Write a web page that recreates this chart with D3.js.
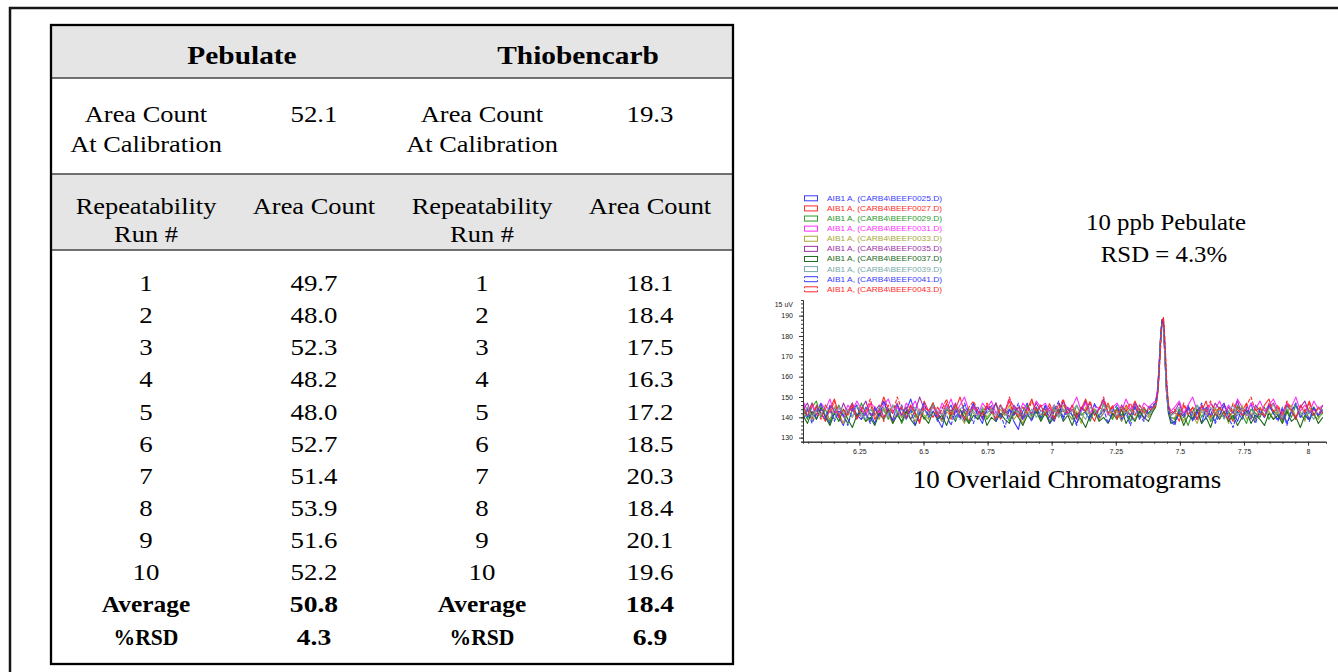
<!DOCTYPE html>
<html>
<head>
<meta charset="utf-8">
<script src="https://cdn.jsdelivr.net/npm/d3@7"></script>
<style>
  html, body { margin: 0; padding: 0; background: #fff; }
  svg { display: block; }
</style>
</head>
<body>
<svg id="chart" width="1338" height="672"></svg>
<script>
// ---- Repeatability table data ----
const compounds = ["Pebulate", "Thiobencarb"];
const calibrationAreas = [52.1, 19.3];
const runNumbers = [1, 2, 3, 4, 5, 6, 7, 8, 9, 10];
const pebulateAreas = [49.7, 48.0, 52.3, 48.2, 48.0, 52.7, 51.4, 53.9, 51.6, 52.2];
const thiobencarbAreas = [18.1, 18.4, 17.5, 16.3, 17.2, 18.5, 20.3, 18.4, 20.1, 19.6];

// ---- Chromatogram data ----
const legendFiles = [
  "AIB1 A, (CARB4\\BEEF0025.D)", "AIB1 A, (CARB4\\BEEF0027.D)",
  "AIB1 A, (CARB4\\BEEF0029.D)", "AIB1 A, (CARB4\\BEEF0031.D)",
  "AIB1 A, (CARB4\\BEEF0033.D)", "AIB1 A, (CARB4\\BEEF0035.D)",
  "AIB1 A, (CARB4\\BEEF0037.D)", "AIB1 A, (CARB4\\BEEF0039.D)",
  "AIB1 A, (CARB4\\BEEF0041.D)", "AIB1 A, (CARB4\\BEEF0043.D)"
];
const traceColors = ["#3a3aff", "#ff2a2a", "#2a9a2a", "#ff30ff", "#a8a838",
                     "#a030a8", "#1e6a1e", "#78a8a8", "#3a3aff", "#ff2a2a"];
const xMajorTicks = [6.25, 6.5, 6.75, 7, 7.25, 7.5, 7.75, 8];
const yMajorTicks = [130, 140, 150, 160, 170, 180, 190];
// retention-time samples across the Pebulate peak (min)
const peakTimes = [7.395, 7.405, 7.412, 7.418, 7.424, 7.430, 7.436, 7.442, 7.448, 7.455, 7.465];

// detector signal (uV): 78 samples before the peak window, 11 across it, 34 after
const run0025 = [
  146,140,147,139,144,141,137,145,140,136, 143,147,141,139,145,142,137,144,148,141,
  139,146,140,143,149,142,138,144,141,147, 139,135,143,146,140,144,138,142,147,141,
  137,145,143,139,146,141,144,138,134,143, 147,140,145,139,146,142,138,144,140,145,
  141,137,143,148,140,144,139,142,146,140, 144,138,143,141,145,139,144,142,
  145,147,152,163,178,188,185,169,153,144,139,
  137,144,141,146,139,143,137,145,141,138, 144,147,140,143,138,145,141,147,139,143,
  140,146,142,139,144,137,143,146,140,144, 139,145,141,143];
const run0027 = [
  141,145,139,146,142,138,144,149,141,137, 143,146,140,144,141,147,139,143,150,144,
  138,142,145,139,146,142,137,148,143,140, 145,141,147,139,144,150,142,138,145,143,
  140,146,142,147,139,143,148,141,145,140, 144,149,142,146,141,145,139,147,143,141,
  146,140,144,149,142,138,145,143,147,141, 144,140,146,143,148,142,145,141,
  144,146,150,160,175,187,189,176,158,146,141,
  143,138,146,141,145,139,143,148,140,144, 141,146,142,138,145,143,147,140,144,141,
  146,149,142,145,140,147,143,139,146,142, 148,141,145,143];
const run0029 = [
  143,139,145,148,140,144,138,142,146,141, 137,144,140,147,142,138,145,141,144,139,
  146,143,137,142,145,140,144,139,143,147, 141,138,144,142,146,140,143,137,145,141,
  144,139,142,147,140,143,138,145,142,140, 146,141,144,139,143,137,145,140,144,142,
  139,146,141,143,138,144,140,147,142,139, 145,141,143,138,146,140,144,142,
  144,146,151,162,178,188,186,170,154,145,140,
  139,144,141,136,143,146,140,144,138,142, 145,140,143,139,146,141,137,144,142,140,
  145,139,143,141,138,144,140,146,141,139, 143,145,140,142];
const run0031 = [
  148,143,146,141,147,144,149,142,145,140, 146,143,148,144,141,147,145,142,146,149,
  143,145,140,147,144,148,142,146,143,145, 141,147,144,149,142,146,150,143,145,141,
  147,144,148,142,146,143,149,145,141,147, 144,142,148,145,147,143,146,141,148,144,
  145,150,143,147,142,146,144,148,141,145, 147,143,149,144,146,142,147,145,
  147,148,153,164,178,187,184,168,152,146,143,
  145,148,142,146,150,143,145,141,147,144, 148,142,146,143,149,145,141,147,144,148,
  143,146,149,144,142,147,145,150,143,146, 142,148,144,146];
const run0033 = [
  140,144,138,143,146,141,139,145,142,137, 143,140,146,141,138,144,142,139,145,141,
  137,143,140,145,142,138,144,141,139,146, 142,138,143,140,145,141,137,144,142,139,
  145,140,143,138,144,141,146,139,142,137, 143,140,145,141,143,138,144,140,146,142,
  139,143,137,145,141,144,139,142,146,140, 143,138,145,141,139,144,142,140,
  143,145,150,161,177,187,185,169,153,143,139,
  140,143,138,145,141,137,144,142,139,145, 140,143,137,144,141,146,139,142,138,145,
  141,143,139,144,137,142,146,140,143,138, 145,141,139,143];
const run0035 = [
  144,147,141,145,142,139,146,143,140,147, 142,145,139,144,148,141,143,146,140,144,
  142,147,141,145,139,143,150,144,141,146, 142,139,145,143,147,140,144,141,146,143,
  139,145,142,147,141,144,140,146,143,139, 145,142,147,143,144,140,146,142,148,141,
  144,139,145,143,147,141,144,149,142,145, 140,146,143,141,147,144,139,145,
  145,147,151,162,177,188,186,171,155,145,141,
  143,147,140,145,142,139,146,143,141,147, 144,140,145,142,148,141,144,139,146,143,
  141,145,147,142,139,146,143,140,145,148, 142,144,141,146];
const run0037 = [
  141,137,143,139,145,140,136,142,138,144, 139,135,141,143,138,140,136,142,139,144,
  137,141,138,143,139,136,142,140,137,143, 139,141,136,142,138,144,140,137,141,139,
  143,136,140,138,142,139,137,143,140,136, 141,139,143,138,142,137,140,144,138,141,
  136,142,139,135,141,143,138,140,137,142, 139,144,137,141,138,143,140,138,
  143,145,150,161,176,187,185,169,152,142,137,
  138,142,136,141,139,144,137,140,135,142, 139,143,138,141,136,140,143,137,141,139,
  136,142,139,141,137,143,138,140,135,141, 139,142,137,140];
const run0039 = [
  142,145,140,144,141,146,143,139,145,142, 144,140,146,142,139,144,141,145,143,140,
  146,142,144,139,143,145,141,144,140,146, 143,141,145,142,139,144,146,141,143,140,
  145,142,144,141,146,143,139,144,142,145, 141,144,140,143,145,142,146,140,144,141,
  143,146,142,139,145,143,141,146,142,144, 140,145,142,144,141,146,143,141,
  144,146,150,161,176,186,184,168,152,144,141,
  142,145,140,144,141,146,143,140,145,142, 144,139,143,146,141,144,142,140,145,143,
  141,144,146,142,140,145,143,147,141,144, 142,139,145,143];
const run0041 = [
  139,144,137,142,147,140,145,138,143,141, 136,144,146,139,142,137,145,140,148,143,
  138,141,146,139,144,136,142,147,140,143, 138,145,141,136,144,139,147,142,137,145,
  140,143,146,138,142,135,144,141,147,139, 142,138,145,140,146,137,143,148,139,144,
  141,136,145,142,139,147,140,144,137,143, 146,139,142,136,145,141,138,144,
  146,147,151,161,176,187,187,173,156,145,138,
  136,143,140,145,138,142,147,139,144,137, 141,146,140,135,143,139,145,141,137,144,
  140,146,142,138,145,136,143,147,140,142, 138,145,141,144];
const run0043 = [
  145,141,147,143,139,146,142,148,140,144, 141,147,139,145,143,149,141,144,138,146,
  142,150,144,140,146,142,138,145,143,147, 140,144,149,141,146,142,139,145,148,143,
  141,147,144,139,146,142,150,144,140,145, 142,148,143,146,141,147,139,144,149,142,
  146,140,145,143,148,141,144,150,142,146, 139,145,143,147,141,146,142,144,
  144,146,149,158,172,185,189,178,160,147,142,
  144,140,147,142,145,139,146,143,148,141, 145,142,139,147,144,141,146,150,143,145,
  140,147,143,146,141,148,144,139,146,143, 147,141,145,142];
const runs = [run0025, run0027, run0029, run0031, run0033,
              run0035, run0037, run0039, run0041, run0043];

// sampling grid: 0.0175 min steps outside the peak window, finer inside it
const retentionTimes = [
  ...d3.range(78).map(i => 6.03 + 0.0175 * i),
  ...peakTimes,
  ...d3.range(34).map(i => 7.48 + 0.0175 * i)
];

const svg = d3.select("#chart");
const SERIF = "'Liberation Serif', 'Times New Roman', serif";
const SANS = "'Liberation Sans', Arial, sans-serif";

function label(g, x, y, text, opt = {}) {
  return g.append("text")
    .attr("transform", `translate(${x},${y}) scale(${opt.sx || 1},1)`)
    .attr("text-anchor", opt.anchor || "middle")
    .attr("font-family", opt.family || SERIF)
    .attr("font-size", opt.size || 24)
    .attr("font-weight", opt.weight || "normal")
    .attr("fill", opt.fill || "#000")
    .text(text);
}

// slide frame
svg.append("path")
  .attr("d", "M10,672 V8 H1338")
  .attr("fill", "none").attr("stroke", "#161616").attr("stroke-width", 2.5);

// ---------------- Table ----------------
const table = svg.append("g");
const tX0 = 51, tX1 = 733, tY0 = 25, tY1 = 664;
const colX = d3.scalePoint().domain([0, 1, 2, 3]).range([146, 650]);
const rowKeys = [...runNumbers.map(String), "Average", "%RSD"];
const rowY = d3.scalePoint().domain(rowKeys).range([291, 644.5]);

table.append("rect").attr("x", tX0).attr("y", tY0).attr("width", tX1 - tX0).attr("height", 78 - tY0)
  .attr("fill", "#e5e5e5");
table.append("rect").attr("x", tX0).attr("y", 174).attr("width", tX1 - tX0).attr("height", 250 - 174)
  .attr("fill", "#e5e5e5");
[78, 174, 250].forEach(yy => {
  table.append("line").attr("x1", tX0).attr("x2", tX1).attr("y1", yy).attr("y2", yy)
    .attr("stroke", "#444").attr("stroke-width", 1.4);
});
table.append("rect").attr("x", tX0).attr("y", tY0).attr("width", tX1 - tX0).attr("height", tY1 - tY0)
  .attr("fill", "none").attr("stroke", "#000").attr("stroke-width", 2.3);

const SX = 1.1, NX = 1.12;
compounds.forEach((name, k) => {
  const cx = (colX(2 * k) + colX(2 * k + 1)) / 2 + 12;
  label(table, cx, 63.5, name, { size: 26, weight: "bold", sx: 1.13 });
  label(table, colX(2 * k), 122, "Area Count", { sx: SX });
  label(table, colX(2 * k), 152, "At Calibration", { sx: SX });
  label(table, colX(2 * k + 1), 122, calibrationAreas[k].toFixed(1), { sx: NX });
  label(table, colX(2 * k), 213.5, "Repeatability", { sx: SX });
  label(table, colX(2 * k), 242, "Run #", { sx: SX });
  label(table, colX(2 * k + 1), 213.5, "Area Count", { sx: SX });
});

[pebulateAreas, thiobencarbAreas].forEach((areas, k) => {
  runNumbers.forEach((r, i) => {
    label(table, colX(2 * k), rowY(String(r)), String(r), { sx: NX });
    label(table, colX(2 * k + 1), rowY(String(r)), areas[i].toFixed(1), { sx: NX });
  });
  const avg = d3.mean(areas);
  const rsd = d3.deviation(areas) / avg * 100;
  label(table, colX(2 * k), rowY("Average"), "Average", { weight: "bold", sx: 1.06 });
  label(table, colX(2 * k + 1), rowY("Average"), avg.toFixed(1), { weight: "bold", sx: 1.15 });
  label(table, colX(2 * k), rowY("%RSD"), "%RSD", { weight: "bold", sx: 0.9 });
  label(table, colX(2 * k + 1), rowY("%RSD"), rsd.toFixed(1), { weight: "bold", sx: 1.15 });
});

// ---------------- Chromatogram ----------------
const plot = svg.append("g");
const x = d3.scaleLinear().domain([6.03, 8.07]).range([803, 1326]);
const y = d3.scaleLinear().domain([128, 197.7]).range([441.7, 300]);

const line = d3.line().x(d => x(d[0])).y(d => y(d[1]));
runs.forEach((vals, k) => {
  const pts = vals.map((v, i) => [retentionTimes[i], v]);
  plot.append("path")
    .attr("d", line(pts))
    .attr("fill", "none")
    .attr("stroke", traceColors[k])
    .attr("stroke-width", 1.1)
    .attr("stroke-linejoin", "round")
    .attr("stroke-dasharray", k >= 8 ? "4,1.5" : null);
});

function styleAxis(g) {
  g.select(".domain").attr("stroke", "#333").attr("stroke-width", 1);
  g.selectAll(".tick line").attr("stroke", "#333");
  g.selectAll(".tick text").attr("font-family", SANS).attr("font-size", 7).attr("fill", "#222");
}

// minor ticks
plot.append("g").attr("transform", `translate(0,${y(128)})`)
  .call(d3.axisBottom(x).tickValues(d3.range(1, 41).map(i => 6 + 0.05 * i)).tickSize(2).tickFormat(""))
  .call(styleAxis);
plot.append("g").attr("transform", `translate(${x(6.03)},0)`)
  .call(d3.axisLeft(y).tickValues(d3.range(0, 35).map(i => 128 + 2 * i)).tickSize(2).tickFormat(""))
  .call(styleAxis);
// major ticks with labels
plot.append("g").attr("transform", `translate(0,${y(128)})`)
  .call(d3.axisBottom(x).tickValues(xMajorTicks).tickSize(4).tickSizeOuter(0).tickPadding(3.5)
    .tickFormat(d3.format("~g")))
  .call(styleAxis);
plot.append("g").attr("transform", `translate(${x(6.03)},0)`)
  .call(d3.axisLeft(y).tickValues(yMajorTicks).tickSize(4).tickSizeOuter(0).tickPadding(6)
    .tickFormat(d3.format("d")))
  .call(styleAxis);
label(plot, 793, 306.5, "15 uV", { family: SANS, size: 7, anchor: "end", fill: "#222" });

// legend
const legY = d3.scalePoint().domain(legendFiles).range([198.3, 289.3]);
legendFiles.forEach((f, k) => {
  const ly = legY(f);
  if (k < 8) {
    plot.append("rect").attr("x", 804.5).attr("y", ly - 2.5).attr("width", 13).attr("height", 5)
      .attr("fill", "none").attr("stroke", traceColors[k]).attr("stroke-width", 1);
  } else {
    plot.append("path")
      .attr("d", `M804.5,${ly - 1} V${ly - 2.5} H817.5 V${ly - 1} M804.5,${ly + 1} V${ly + 2.5} H817.5 V${ly + 1}`)
      .attr("fill", "none").attr("stroke", traceColors[k]).attr("stroke-width", 1);
  }
  label(plot, 827, ly + 2.5, f, { family: SANS, size: 7, anchor: "start", sx: 1.2, fill: traceColors[k] });
});

// annotations
const rsdPeb = d3.deviation(pebulateAreas) / d3.mean(pebulateAreas) * 100;
label(plot, 1166, 229.5, "10 ppb Pebulate", { size: 23, sx: 1.08 });
label(plot, 1164, 262, `RSD = ${rsdPeb.toFixed(1)}%`, { size: 23, sx: 1.08 });
label(plot, 1067, 488, "10 Overlaid Chromatograms", { size: 24.5, sx: 1.1 });
</script>
</body>
</html>
